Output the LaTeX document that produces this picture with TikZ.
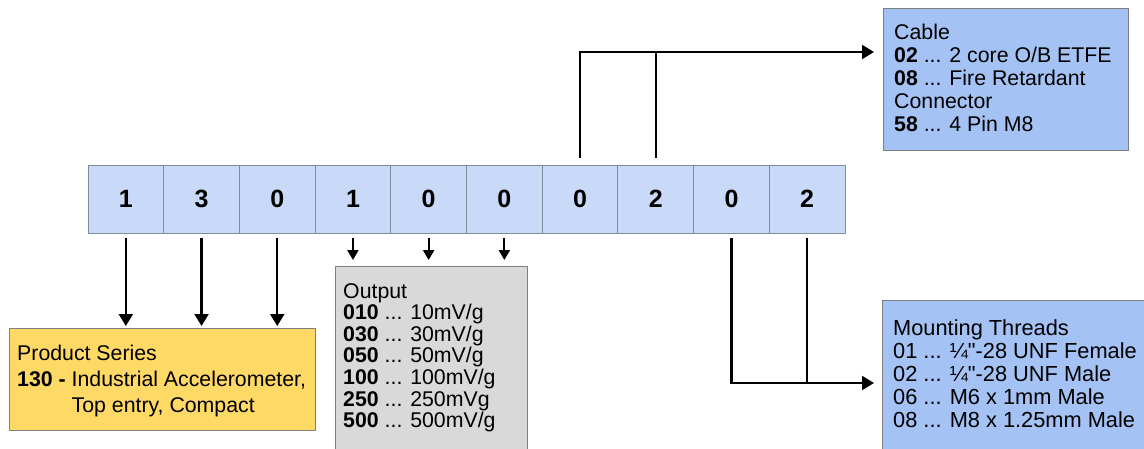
\documentclass[tikz,border=0pt]{standalone}
\usepackage{fontspec}
\setmainfont{Liberation Sans}
\usetikzlibrary{arrows.meta}
\definecolor{cellfill}{HTML}{C9DAF8}
\definecolor{cellline}{HTML}{7F8C9D}
\definecolor{bluebox}{HTML}{A4C2F4}
\definecolor{yellowbox}{HTML}{FFD966}
\definecolor{graybox}{HTML}{D9D9D9}
\definecolor{boxline}{HTML}{7F7F7F}
\tikzset{
  cell/.style={draw=cellline, fill=cellfill, line width=1pt, minimum width=75.7pt, minimum height=68pt, inner sep=0pt, font=\fontsize{25}{28}\selectfont\bfseries},
  infobox/.style={draw=boxline, line width=1pt, inner sep=0pt, anchor=north west},
  txt/.style={align=left, inner sep=0pt, anchor=north west},
  conn/.style={line width=2.2pt, line join=miter},
  arr/.style={conn, -{Triangle[length=12pt,width=14pt]}},
  sarr/.style={conn, -{Triangle[length=10pt,width=11pt]}},
}
\begin{document}
\begin{tikzpicture}[x=1pt,y=-1pt]
\useasboundingbox (0,0) rectangle (1144,448);
% cells
\foreach \d [count=\i] in {1,3,0,1,0,0,0,2,0,2}{
  \node[cell] (c\i) at ({88+75.7*(\i-0.5)},199) {\d};
}
% Product series box
\node[infobox, fill=yellowbox, minimum width=306pt, minimum height=102pt] (prod) at (9,328) {};
\node[txt, font=\fontsize{21.3}{26}\selectfont] at ([shift={(8,17)}]prod.north west)
  {Product Series\\ \textbf{130 -} Industrial Accelerometer,\\ \phantom{\textbf{130 -} }Top entry, Compact};
% Output box
\node[infobox, fill=graybox, minimum width=192pt, minimum height=200pt] (output) at (335,266) {};
\node[txt, font=\fontsize{21.3}{21.6}\selectfont] at ([shift={(8,17)}]output.north west)
  {Output\\ \textbf{010} ... 10mV/g\\ \textbf{030} ... 30mV/g\\ \textbf{050} ... 50mV/g\\ \textbf{100} ... 100mV/g\\ \textbf{250} ... 250mVg\\ \textbf{500} ... 500mV/g};
% Cable box
\node[infobox, fill=bluebox, minimum width=245pt, minimum height=142pt] (cable) at (883,8) {};
\node[txt, font=\fontsize{21.3}{23}\selectfont] at ([shift={(11,16)}]cable.north west)
  {Cable\\ \textbf{02} ... 2 core O/B ETFE\\ \textbf{08} ... Fire Retardant\\ Connector\\ \textbf{58} ... 4 Pin M8};
% Mounting box
\node[infobox, fill=bluebox, minimum width=280pt, minimum height=170pt] (mount) at (882,300) {};
\node[txt, font=\fontsize{21.8}{23}\selectfont] at ([shift={(11,19)}]mount.north west)
  {Mounting Threads\\ 01 ... ¼\textquotedbl-28 UNF Female\\ 02 ... ¼\textquotedbl-28 UNF Male\\ 06 ... M6 x 1mm Male\\ 08 ... M8 x 1.25mm Male};
% arrows to product series
\foreach \i in {1,2,3}{
  \draw[arr, shorten <=4pt, shorten >=2pt] (c\i.south) -- (c\i.south |- prod.north);
}
% arrows to output
\foreach \i in {4,5,6}{
  \draw[sarr, shorten <=4pt, shorten >=6pt] (c\i.south) -- (c\i.south |- output.north);
}
% cable connectors
\coordinate (cj) at (c7.north |- 0,52);
\draw[arr, shorten <=7pt, shorten >=9pt] (c7.north) |- (cable.west |- cj);
\draw[conn, shorten <=7pt] (c8.north) -- (c8.north |- cj);
% mounting connectors
\coordinate (mj) at (c9.south |- 0,383);
\draw[arr, shorten <=4pt, shorten >=8pt] (c9.south) |- (mount.west |- mj);
\draw[conn, shorten <=4pt] (c10.south) -- (c10.south |- mj);
\end{tikzpicture}
\end{document}
